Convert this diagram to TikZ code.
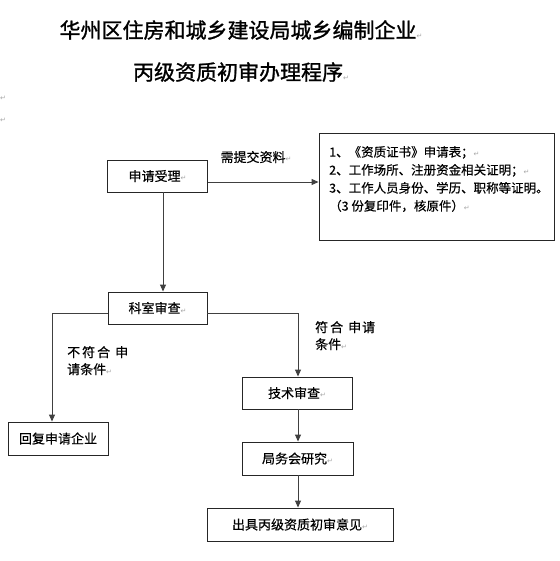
\documentclass[tikz,border=0pt]{standalone}
\usepackage{fontspec}
\setmainfont{Noto Sans CJK SC}[FakeBold=0.4]
\newfontfamily\ttlfont{Noto Sans CJK SC}[FakeBold=1.2]
\newfontfamily\djv{DejaVu Sans}
\usetikzlibrary{arrows.meta}
\newcommand{\pmark}{{\djv\fontsize{7}{7}\selectfont\color{black!35}↵}}
\tikzset{
  box/.style={draw=black!85, line width=0.9pt, rectangle, inner sep=0pt, font=\fontsize{13}{18}\selectfont},
  conn/.style={draw=black!75, line width=0.9pt},
  arr/.style={conn, -{Triangle[length=7pt,width=6pt]}},
  lbl/.style={font=\fontsize{13}{17}\selectfont, inner sep=0pt, align=left},
  ttl/.style={font=\ttlfont\fontsize{21}{25}\selectfont, inner sep=0pt}
}
\begin{document}
\begin{tikzpicture}[x=1pt,y=-1pt]
\useasboundingbox (0,0) rectangle (559,561);
% titles
\node[ttl] (t1) at (241,30) {华州区住房和城乡建设局城乡编制企业\pmark};
\node[ttl] (t2) at (241,72) {丙级资质初审办理程序\pmark};
\node[inner sep=0pt] (m1) at (3,98) {\pmark};
\node[inner sep=0pt] (m2) at (3,120) {\pmark};
% boxes
\node[box, minimum width=100pt, minimum height=32pt] (sq) at (157.5,176) {申请受理\pmark};
\node[box, minimum width=235pt, minimum height=107pt] (req) at (436.5,186.5) {};
\node[lbl, anchor=west, font=\fontsize{12.5}{18}\selectfont] (reqtxt) at (329,179) {1、《资质证书》申请表；\pmark\\2、工作场所、注册资金相关证明；\pmark\\3、工作人员身份、学历、职称等证明。\\（3 份复印件，核原件）\pmark};
\node[box, minimum width=99pt, minimum height=32pt] (ks) at (157.5,308) {科室审查\pmark};
\node[box, minimum width=100pt, minimum height=33pt] (hf) at (58,438.5) {回复申请企业};
\node[box, minimum width=110pt, minimum height=32pt] (js) at (297,393) {技术审查\pmark};
\node[box, minimum width=111pt, minimum height=33pt] (jw) at (297.5,458.5) {局务会研究\pmark};
\node[box, minimum width=186pt, minimum height=33pt] (cj) at (300,524.5) {出具丙级资质初审意见\pmark};
% labels
\node[lbl] (l1) at (256,157) {需提交资料\pmark};
\node[lbl, anchor=north west] (l2) at (67,346) {不\hspace{2pt}符\hspace{2pt}合\hspace{5pt}申\\请条件\pmark};
\node[lbl, anchor=north west] (l3) at (315,321) {符\hspace{2pt}合\hspace{5pt}申\hspace{1pt}请\\条件\pmark};
% connectors
\draw[arr] ([yshift=-6pt]sq.east) -- ([yshift=4.5pt]req.west);
\draw[arr] ([xshift=5.5pt]sq.south) -- ([xshift=5.5pt]ks.north);
\draw[arr] ([yshift=-5pt]ks.west) -| ([xshift=-6pt]hf.north);
\draw[arr] ([yshift=-5pt]ks.east) -| ([xshift=1pt]js.north);
\draw[arr] ([xshift=1pt]js.south) -- ([xshift=0.5pt]jw.north);
\draw[arr] ([xshift=0.5pt]jw.south) -- ([xshift=-2pt]cj.north);
\end{tikzpicture}
\end{document}
